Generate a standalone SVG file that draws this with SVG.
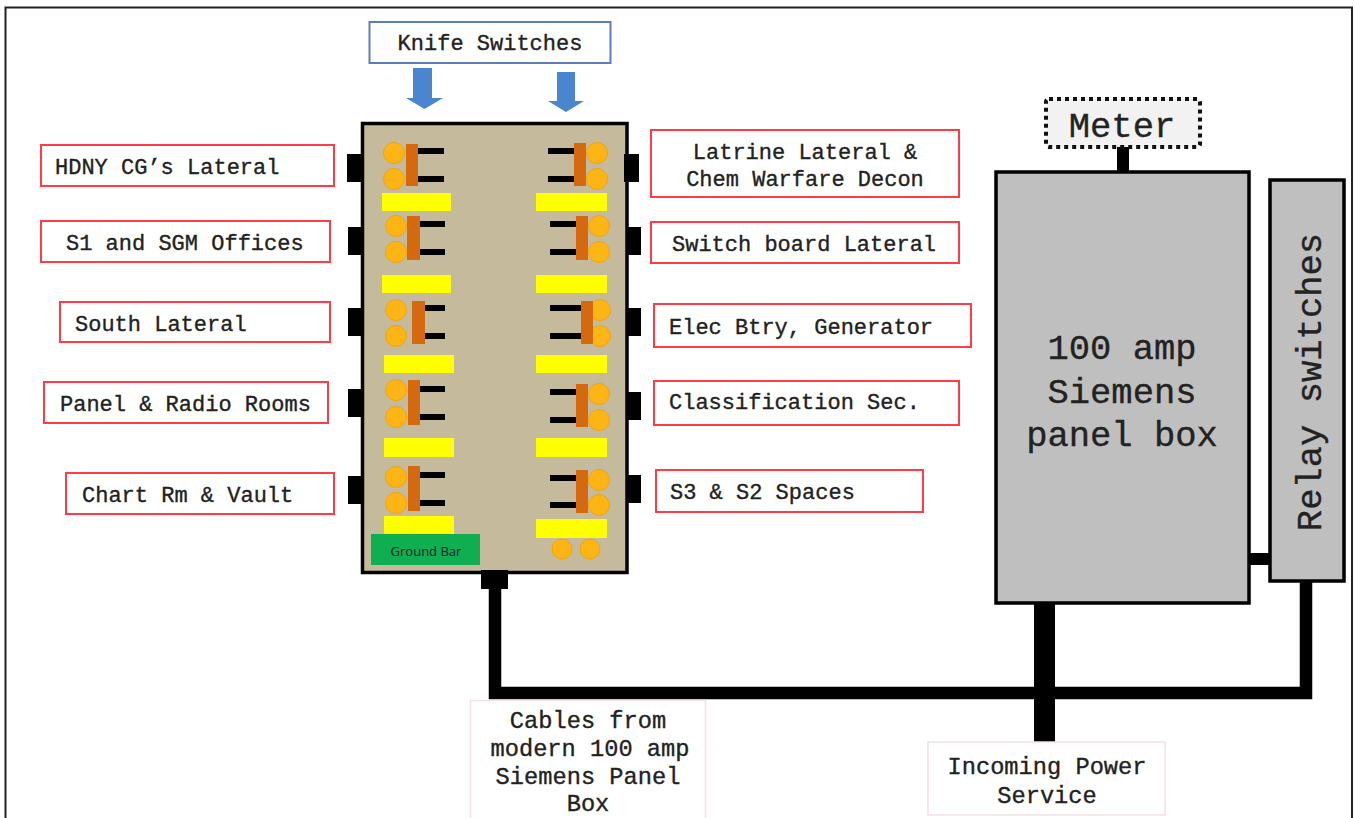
<svg xmlns="http://www.w3.org/2000/svg" width="1355" height="818" viewBox="0 0 1355 818">
<style>
.t{font-family:"Liberation Mono","Courier New",monospace;fill:#222;stroke:#222;stroke-width:.35}
.s22{font-size:22px}.s235{font-size:23.7px}.s35{font-size:35.5px}
.m{text-anchor:middle}
.lab{fill:#fff;stroke:#ff3b47;stroke-width:2}
.pale{fill:#fff;stroke:#f5e1e3;stroke-width:1.5}
.k{fill:#000}
.c{fill:#fdb515;stroke:#eda512;stroke-width:1}
.b{fill:#d4690f}
.y{fill:#ff0}
.gr{fill:#bfbfbf;stroke:#000;stroke-width:3.5}
.w{stroke:#000;fill:none}
.ar{fill:#4a86d0}
</style>
<rect width="1355" height="818" fill="#fff"/>
<path d="M5.5 818V7.5H1352V818" fill="none" stroke="#222" stroke-width="2"/>

<g id="connectors">
<path class="w" stroke-width="12.5" d="M495 585V693H1306V580"/>
<path class="w" stroke-width="21" d="M1044.500 603V742"/>
<path class="w" stroke-width="12" d="M1249 559H1270"/>
<path class="w" stroke-width="12" d="M1123 147V172"/>
</g>

<g id="knife-switches">
<rect x="369.500" y="22" width="241" height="41" fill="#fff" stroke="#5b7fb5" stroke-width="2"/>
<text class="t s22 m" x="490" y="50">Knife Switches</text>
<path class="ar" d="M413 68H432V98H443L424.500 109L406 98H413Z"/>
<path class="ar" d="M557 72H575V101H584L566 112L548 101H557Z"/>
</g>

<g id="switch-panel">
<rect x="362.500" y="123.500" width="264.500" height="449" fill="#c5bb9c" stroke="#000" stroke-width="3.500"/>
<rect class="y" x="382" y="193" width="69" height="18"/>
<rect class="y" x="382" y="275" width="69" height="18"/>
<rect class="y" x="384" y="355" width="70" height="18"/>
<rect class="y" x="384" y="438" width="70" height="19"/>
<rect class="y" x="384" y="516" width="70" height="18"/>
<rect class="y" x="536" y="193" width="71" height="18"/>
<rect class="y" x="536" y="275" width="71" height="18"/>
<rect class="y" x="536" y="355" width="71" height="18"/>
<rect class="y" x="536" y="438" width="71" height="19"/>
<rect class="y" x="536" y="519" width="71" height="19"/>
</g>

<g id="terminals">
<rect class="k" x="347" y="154" width="17" height="28"/>
<rect class="k" x="348" y="227" width="16" height="28"/>
<rect class="k" x="348" y="308" width="16" height="28"/>
<rect class="k" x="348" y="389" width="16" height="28"/>
<rect class="k" x="348" y="476" width="16" height="28"/>
<rect class="k" x="624" y="154" width="15" height="28"/>
<rect class="k" x="626" y="227" width="15" height="28"/>
<rect class="k" x="626" y="308" width="15" height="28"/>
<rect class="k" x="626" y="392" width="15" height="28"/>
<rect class="k" x="626" y="475" width="15" height="28"/>
<rect class="k" x="481" y="570" width="27" height="19"/>
</g>

<g id="ground-bar">
<rect x="371" y="534" width="109" height="31" fill="#0fae50"/>
<text x="426" y="556" font-family="'Open Sans','Liberation Sans',sans-serif" font-size="13" fill="#123" text-anchor="middle">Ground Bar</text>
</g>

<g id="left-switch-1"><circle class="c" cx="394" cy="153" r="10.500"/><circle class="c" cx="394" cy="179" r="10.500"/><rect class="k" x="418" y="148" width="26" height="6"/><rect class="k" x="418" y="176" width="26" height="6"/><rect class="b" x="406" y="144" width="12" height="42"/></g>
<g id="left-switch-2"><circle class="c" cx="396" cy="226" r="10.500"/><circle class="c" cx="396" cy="252" r="10.500"/><rect class="k" x="420" y="221" width="25" height="6"/><rect class="k" x="420" y="249" width="25" height="6"/><rect class="b" x="407" y="216" width="13" height="44"/></g>
<g id="left-switch-3"><circle class="c" cx="396" cy="310" r="10.500"/><circle class="c" cx="396" cy="336" r="10.500"/><rect class="k" x="425" y="305" width="20" height="6"/><rect class="k" x="425" y="333" width="20" height="6"/><rect class="b" x="412" y="301" width="13" height="43"/></g>
<g id="left-switch-4"><circle class="c" cx="396" cy="390" r="10.500"/><circle class="c" cx="396" cy="417" r="10.500"/><rect class="k" x="420" y="386" width="25" height="6"/><rect class="k" x="420" y="414" width="25" height="6"/><rect class="b" x="408" y="380" width="12" height="45"/></g>
<g id="left-switch-5"><circle class="c" cx="396" cy="477" r="10.500"/><circle class="c" cx="396" cy="503" r="10.500"/><rect class="k" x="420" y="472" width="25" height="6"/><rect class="k" x="420" y="500" width="25" height="6"/><rect class="b" x="408" y="466" width="12" height="45"/></g>

<g id="right-switch-1"><circle class="c" cx="597" cy="153" r="10.500"/><circle class="c" cx="597" cy="179" r="10.500"/><rect class="k" x="548" y="148" width="26" height="6"/><rect class="k" x="548" y="176" width="26" height="6"/><rect class="b" x="574" y="143" width="12" height="43"/></g>
<g id="right-switch-2"><circle class="c" cx="599" cy="226" r="10.500"/><circle class="c" cx="599" cy="252" r="10.500"/><rect class="k" x="550" y="221" width="26" height="6"/><rect class="k" x="550" y="249" width="26" height="6"/><rect class="b" x="576" y="216" width="12" height="44"/></g>
<g id="right-switch-3"><circle class="c" cx="600" cy="310" r="10.500"/><circle class="c" cx="600" cy="336" r="10.500"/><rect class="k" x="550" y="305" width="31" height="6"/><rect class="k" x="550" y="333" width="31" height="6"/><rect class="b" x="581" y="301" width="12" height="43"/></g>
<g id="right-switch-4"><circle class="c" cx="599" cy="394" r="10.500"/><circle class="c" cx="599" cy="420" r="10.500"/><rect class="k" x="550" y="389" width="26" height="6"/><rect class="k" x="550" y="417" width="26" height="6"/><rect class="b" x="576" y="384" width="12" height="43"/></g>
<g id="right-switch-5"><circle class="c" cx="599" cy="480" r="10.500"/><circle class="c" cx="599" cy="505" r="10.500"/><rect class="k" x="550" y="475" width="26" height="6"/><rect class="k" x="550" y="502" width="26" height="6"/><rect class="b" x="576" y="470" width="12" height="43"/></g>
<g id="spare-lugs"><circle class="c" cx="562" cy="549" r="10"/><circle class="c" cx="590" cy="549" r="10"/></g>

<g id="label-hdny"><rect class="lab" x="41" y="145" width="293" height="41"/><text class="t s22" x="55" y="174">HDNY CG’s Lateral</text></g>
<g id="label-s1"><rect class="lab" x="41" y="221" width="289" height="41"/><text class="t s22" x="66" y="250">S1 and SGM Offices</text></g>
<g id="label-south"><rect class="lab" x="60" y="302" width="270" height="40"/><text class="t s22" x="75" y="331">South Lateral</text></g>
<g id="label-panel"><rect class="lab" x="44" y="382" width="284" height="41"/><text class="t s22" x="60" y="411">Panel &amp; Radio Rooms</text></g>
<g id="label-chart"><rect class="lab" x="66" y="473" width="268" height="41"/><text class="t s22" x="82" y="502">Chart Rm &amp; Vault</text></g>
<g id="label-latrine"><rect class="lab" x="651" y="130" width="308" height="67"/><text class="t s22 m" x="805" y="159">Latrine Lateral &amp;</text><text class="t s22 m" x="805" y="186">Chem Warfare Decon</text></g>
<g id="label-switchboard"><rect class="lab" x="651" y="222" width="308" height="41"/><text class="t s22" x="672" y="251">Switch board Lateral</text></g>
<g id="label-elec"><rect class="lab" x="654" y="304" width="317" height="43"/><text class="t s22" x="669" y="334">Elec Btry, Generator</text></g>
<g id="label-class"><rect class="lab" x="654" y="381" width="305" height="44"/><text class="t s22" x="669" y="409">Classification Sec.</text></g>
<g id="label-s3"><rect class="lab" x="656" y="470" width="267" height="42"/><text class="t s22" x="670" y="499">S3 &amp; S2 Spaces</text></g>

<g id="meter"><rect x="1046" y="99" width="154" height="48" rx="3" fill="#f2f2f2" stroke="#111" stroke-width="4" stroke-dasharray="4 4"/><text class="t s35 m" x="1122" y="137">Meter</text></g>
<g id="panel-box"><rect class="gr" x="996" y="172" width="253" height="431"/><text class="t s35 m" x="1122" y="359">100 amp</text><text class="t s35 m" x="1122" y="403">Siemens</text><text class="t s35 m" x="1122" y="446">panel box</text></g>
<g id="relay-switches"><rect class="gr" x="1270" y="180" width="74" height="401"/><text class="t m" font-size="35.500" transform="translate(1321 382) rotate(-90)">Relay switches</text></g>

<g id="cables-label"><path class="pale" d="M470.500 818V700.500H705.500V818"/><text class="t s235 m" x="588" y="728">Cables from</text><text class="t s235 m" x="590" y="756">modern 100 amp</text><text class="t s235 m" x="588" y="784">Siemens Panel</text><text class="t s235 m" x="588" y="811">Box</text></g>
<g id="incoming-label"><rect class="pale" x="928" y="742" width="237" height="73"/><text class="t s235 m" x="1047" y="774">Incoming Power</text><text class="t s235 m" x="1047" y="803">Service</text></g>
</svg>
